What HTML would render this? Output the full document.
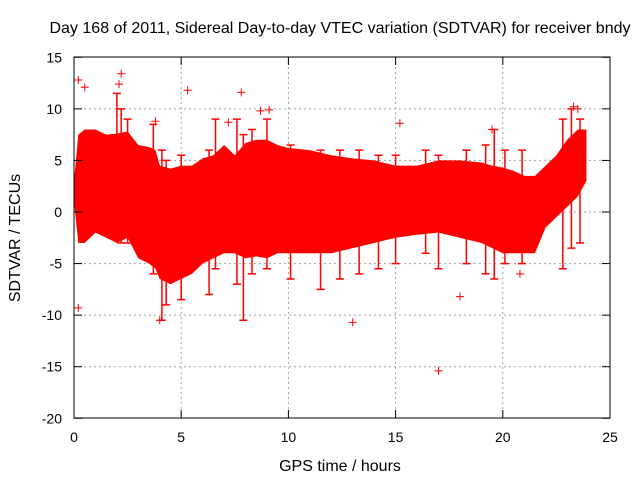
<!DOCTYPE html>
<html><head><meta charset="utf-8"><style>
body{margin:0;background:#fff;font-family:"Liberation Sans",sans-serif}
</style></head><body>
<svg id="c" width="640" height="480" xmlns="http://www.w3.org/2000/svg" font-family="Liberation Sans, sans-serif" font-size="14">
<text x="340" y="33" text-anchor="middle" font-size="16">Day 168 of 2011, Sidereal Day-to-day VTEC variation (SDTVAR) for receiver bndy</text>
<text x="340" y="471" text-anchor="middle" font-size="16">GPS time / hours</text>
<text transform="translate(20,238) rotate(-90)" text-anchor="middle" font-size="16">SDTVAR / TECUs</text>
<g id="grid"></g>
<g id="marks"></g>
<rect x="74" y="57" width="536" height="361" fill="none" stroke="#000"/>
<g id="ticks"></g>
</svg>
<script>
const xTicks=[0,5,10,15,20,25];
const yTicks=[-20,-15,-10,-5,0,5,10,15];
const times=[0,0.2,0.5,1,1.5,2,2.5,3,3.5,3.8,4.0,4.5,5,5.5,6,6.5,7,7.5,8,8.5,9,9.5,10,11,12,13,14,15,16,17,18,19,19.5,20,20.5,21,21.5,22,22.5,23,23.5,23.9];
const upper=[3,7.5,8,8,7.5,7.6,7.8,6.5,6.3,6,4.5,4.2,4.5,4.5,5.2,5.5,6.5,5.5,6.7,7,7,6.5,6.2,6,5.5,5.2,5,4.5,4.5,5,5,4.8,4.5,4.3,4,3.5,3.5,4.5,5.5,7,8,8];
const lower=[1,-3,-3,-2,-2.5,-3,-2.5,-4.5,-5,-5.5,-6.5,-7,-6.5,-6,-5,-4.5,-4,-4,-4.5,-4.3,-4.5,-4,-4,-4,-4,-3.5,-3,-2.5,-2.2,-2,-2.5,-3,-3.5,-4,-4,-4,-4,-1.5,-0.5,0.5,1.5,3];
const spikeX=[2.0,2.2,2.5,3.7,4.1,4.3,5.0,6.3,6.6,7.6,7.9,8.3,9.0,10.1,11.5,12.4,13.3,14.2,15.0,16.4,17.0,18.3,19.2,19.6,20.1,20.9,22.8,23.2,23.6];
const spikeHi=[11.5,10,9,8.5,6,5,5.5,6,9,9,7.5,8,9,6.5,6,6,6,5.5,5.5,6,5.5,6,6.5,8,6,6,9,10,9];
const spikeLo=[-2,-3,-3,-6,-10.5,-9,-8.5,-8,-5.5,-7,-10.5,-6,-5.5,-6.5,-7.5,-6.5,-6,-5.5,-5,-4,-5.5,-5,-6,-6.5,-5,-5,-5.5,-3.5,-3];
const outX=[0.2,0.5,2.2,2.1,5.3,7.8,8.7,7.2,9.1,0.2,4.0,3.8,13,17,18,23.3,23.5,15.2,19.5,20.8];
const outY=[12.8,12.1,13.4,12.4,11.8,11.6,9.8,8.7,9.9,-9.3,-10.5,8.8,-10.7,-15.4,-8.2,10.2,10,8.6,8,-6];
const X=v=>74+v*21.44, Y=v=>212-v*10.314;
const ns="http://www.w3.org/2000/svg";
function mk(t,a,p){const e=document.createElementNS(ns,t);for(const k in a)e.setAttribute(k,a[k]);p.appendChild(e);return e;}
const g=document.getElementById('grid'),tk=document.getElementById('ticks'),m=document.getElementById('marks');
xTicks.forEach(v=>{
 if(v>0&&v<25){const l=mk('line',{x1:X(v),x2:X(v),y1:57,y2:418,stroke:'#a0a0a0','stroke-dasharray':'2,3'},g);}
 mk('line',{x1:X(v),x2:X(v),y1:418,y2:410,stroke:'#000'},tk);mk('line',{x1:X(v),x2:X(v),y1:57,y2:65,stroke:'#000'},tk);
 const t=mk('text',{x:X(v),y:442,'text-anchor':'middle'},tk);t.textContent=v;
 
});
yTicks.forEach(v=>{
 if(v>-20&&v<15){const l=mk('line',{x1:74,x2:610,y1:Y(v),y2:Y(v),stroke:'#a0a0a0','stroke-dasharray':'2,3'},g);}
 mk('line',{x1:74,x2:82,y1:Y(v),y2:Y(v),stroke:'#000'},tk);mk('line',{x1:610,x2:602,y1:Y(v),y2:Y(v),stroke:'#000'},tk);
 const t=mk('text',{x:62,y:Y(v)+5,'text-anchor':'end'},tk);t.textContent=v;
 
});
let pts=times.map((t,i)=>X(t)+','+Y(upper[i]));
for(let i=times.length-1;i>=0;i--)pts.push(X(times[i])+','+Y(lower[i]));
const band=mk('polygon',{points:pts.join(' '),fill:'#ff0000'},m);

spikeX.forEach((x,i)=>{
 const cx=X(x),t=Y(spikeHi[i]),b=Y(spikeLo[i]);
 const p=mk('path',{d:`M${cx},${t}V${b}M${cx-4},${t}h8M${cx-4},${b}h8`,stroke:'#ff0000','stroke-width':1.5},m);
 
});
outX.forEach((x,i)=>{
 const cx=X(x),cy=Y(outY[i]);
 const p=mk('path',{d:`M${cx-4},${cy}h8M${cx},${cy-4}v8`,stroke:'#ff0000','stroke-width':1},m);
 
});
</script>
</body></html>
